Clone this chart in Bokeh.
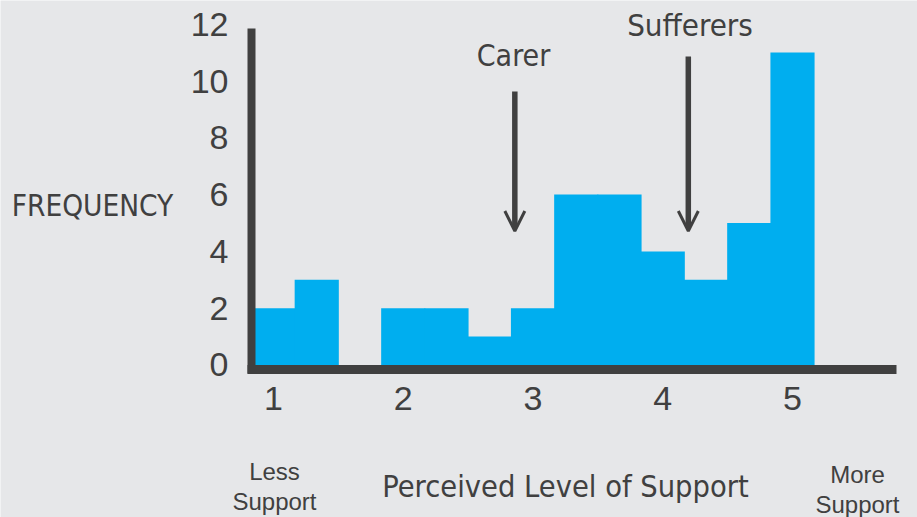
from bokeh.plotting import figure
from bokeh.models import Range1d, FixedTicker, Label, Arrow, OpenHead, LinearAxis
from bokeh.embed import file_html
from bokeh.resources import INLINE

# ---- data ----
support_levels = [1.0, 1.3333, 1.6667, 2.0, 2.3333, 2.6667, 3.0,
                  3.3333, 3.6667, 4.0, 4.3333, 4.6667, 5.0]
frequency = [2, 3, 0, 2, 2, 1, 2, 6, 6, 4, 3, 5, 11]
bin_width = 1 / 3
x_ticks = [1, 2, 3, 4, 5]
y_ticks = [0, 2, 4, 6, 8, 10, 12]
carer_level = 2.86
sufferers_level = 4.197

BG = "#e6e7e9"
INK = "#404040"
BLUE = "#00aeef"
REG = "'Liberation Sans', Arial, sans-serif"
NARROW = "'Liberation Sans Narrow', 'Arial Narrow', 'DejaVu Sans Condensed', sans-serif"

p = figure(width=917, height=517,
           x_range=Range1d(-1.1040, 5.9634), y_range=Range1d(-5.370, 12.835),
           output_backend="svg", toolbar_location=None,
           min_border=0, x_axis_type=None, y_axis_type=None)
p.background_fill_color = BG
p.border_fill_color = BG
p.outline_line_color = None
p.grid.grid_line_color = None

p.vbar(x=support_levels, top=frequency, bottom=0, width=bin_width + 0.007,
       fill_color=BLUE, line_color=None)


def style_axis(ax):
    ax.major_tick_line_color = None
    ax.minor_tick_line_color = None
    ax.major_tick_in = 0
    ax.major_tick_out = 0
    ax.minor_tick_in = 0
    ax.minor_tick_out = 0
    ax.major_label_text_font = "Liberation Sans"
    ax.major_label_text_font_size = "34px"
    ax.major_label_text_color = INK


# y axis: one for the thick line, one for the tick labels
y_line = LinearAxis(fixed_location=0.8304, bounds=(-0.299, 11.85),
                    ticker=FixedTicker(ticks=[]), axis_line_color=INK,
                    axis_line_width=8)
style_axis(y_line)
p.add_layout(y_line, "left")
y_lab = LinearAxis(fixed_location=0.8304, ticker=FixedTicker(ticks=y_ticks),
                   axis_line_color=None, major_label_standoff=23)
style_axis(y_lab)
p.add_layout(y_lab, "left")

x_ax = LinearAxis(fixed_location=-0.141, bounds=(0.7996, 5.8015),
                  ticker=FixedTicker(ticks=x_ticks), axis_line_color=INK,
                  axis_line_width=9, major_label_standoff=18)
style_axis(x_ax)
p.add_layout(x_ax, "below")

# arrows
for lvl, y0 in ((carer_level, 9.63), (sufferers_level, 10.86)):
    p.add_layout(Arrow(x_start=lvl, y_start=y0, x_end=lvl, y_end=4.72,
                       line_color=INK, line_width=5.5,
                       end=OpenHead(size=20, line_width=3, line_color=INK)))


def lab(x, y, text, size, font=NARROW):
    p.add_layout(Label(x=x, y=y, text=text, text_align="center",
                       text_baseline="alphabetic", text_font=font,
                       text_font_size=size, text_color=INK))


lab(2.8497, 10.915, "Carer", "30px")
lab(4.210, 11.989, "Sufferers", "31px")
lab(-0.395, 5.616, "FREQUENCY", "29.5px")
lab(3.2505, -4.278, "Perceived Level of Support", "30.5px")
lab(1.0077, -3.750, "Less", "24px", REG)
lab(1.0077, -4.806, "Support", "24px", REG)
lab(5.501, -3.856, "More", "24px", REG)
lab(5.501, -4.912, "Support", "24px", REG)

open("out.html", "w").write(file_html(p, INLINE))
